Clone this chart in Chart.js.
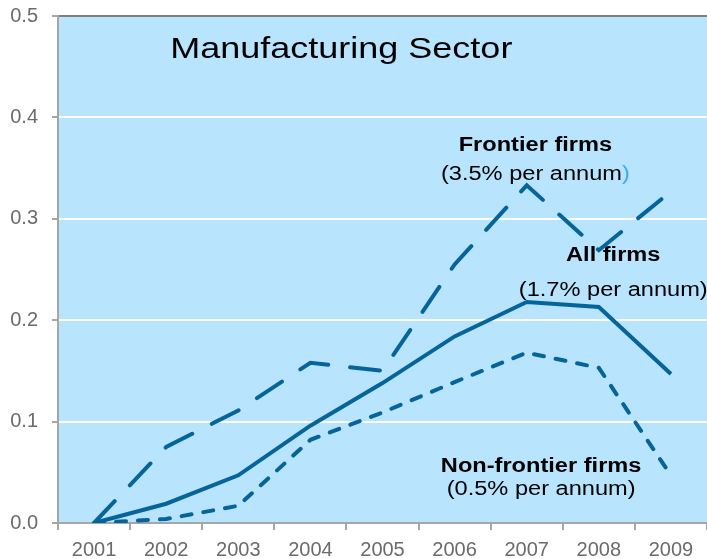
<!DOCTYPE html>
<html>
<head>
<meta charset="utf-8">
<script src="https://cdn.jsdelivr.net/npm/chart.js@4.4.0/dist/chart.umd.min.js"></script>
<style>
    html, body { margin: 0; padding: 0; background: #fff; }
    #wrap { width: 707px; height: 559px; }
</style>
</head>
<body>
<div id="wrap"><canvas id="chart"></canvas></div>
<script>
// values
var years = ['2001', '2002', '2003', '2004', '2005', '2006', '2007', '2008', '2009'];
var allFirms = [0, 0.019, 0.047, 0.096, 0.138, 0.184, 0.218, 0.213, 0.147];
var frontierFirms = [0, 0.075, 0.111, 0.158, 0.150, 0.255, 0.333, 0.269, 0.327];
var nonFrontierFirms = [0, 0.004, 0.017, 0.082, 0.109, 0.139, 0.168, 0.153, 0.047];
var yMin = 0, yMax = 0.5, yStep = 0.1;

var chartTitle = 'Manufacturing Sector';
var seriesNotes = [
    { name: 'Frontier firms', rate: '(3.5% per annum', at: [6.12, 0.3665, 0.338] },
    { name: 'All firms', rate: '(1.7% per annum)', at: [7.2, 0.2587, 0.2234] },
    { name: 'Non-frontier firms', rate: '(0.5% per annum)', at: [6.2, 0.0506, 0.0276] }
];

var lineColor = '#05649a';
var axisGrey = '#a6a6a6';
var FONT = '"Liberation Sans", Arial, sans-serif';

var plotBackground = {
    id: 'plotBackground',
    beforeDraw: function(chart) {
        var a = chart.chartArea, ctx = chart.ctx;
        ctx.save();
        ctx.fillStyle = '#b8e4fd';
        ctx.fillRect(a.left, a.top, a.right - a.left, a.bottom - a.top);
        ctx.restore();
    }
};

var notes = {
    id: 'notes',
    afterDatasetsDraw: function(chart) {
        var ctx = chart.ctx, xs = chart.scales.x, ys = chart.scales.y;
        var stretch = 1.18;
        ctx.save();
        ctx.fillStyle = '#000';
        ctx.textBaseline = 'alphabetic';

        // title
        ctx.save();
        ctx.translate(xs.getPixelForValue(1.056), ys.getPixelForValue(0.4587));
        ctx.scale(1.2, 1);
        ctx.font = '30px ' + FONT;
        ctx.textAlign = 'left';
        ctx.fillText(chartTitle, 0, 0);
        ctx.restore();

        seriesNotes.forEach(function(n) {
            var px = xs.getPixelForValue(n.at[0]);
            ctx.save();
            ctx.translate(px, ys.getPixelForValue(n.at[1]));
            ctx.scale(stretch, 1);
            ctx.font = 'bold 20px ' + FONT;
            ctx.textAlign = 'center';
            ctx.fillText(n.name, 0, 0);
            ctx.restore();

            ctx.save();
            ctx.translate(px, ys.getPixelForValue(n.at[2]));
            ctx.scale(stretch, 1);
            ctx.font = '20px ' + FONT;
            ctx.textAlign = 'left';
            if (n.rate.slice(-1) === ')') {
                var w = ctx.measureText(n.rate).width;
                ctx.fillText(n.rate, -w / 2, 0);
            } else {
                var w1 = ctx.measureText(n.rate).width;
                var w2 = ctx.measureText(')').width;
                ctx.fillText(n.rate, -(w1 + w2) / 2, 0);
                ctx.fillStyle = '#3fa9f5';
                ctx.fillText(')', -(w1 + w2) / 2 + w1, 0);
            }
            ctx.restore();
        });
        ctx.restore();
    }
};

var ctx = document.getElementById('chart');
var chart = new Chart(ctx, {
    type: 'line',
    data: {
        labels: years,
        datasets: [{
            label: 'Frontier firms',
            data: frontierFirms,
            borderColor: lineColor,
            borderWidth: 4,
            borderDash: [30, 22],
            borderCapStyle: 'round',
            pointRadius: 0,
            tension: 0
        }, {
            label: 'All firms',
            data: allFirms,
            borderColor: lineColor,
            borderWidth: 4,
            pointRadius: 0,
            tension: 0
        }, {
            label: 'Non-frontier firms',
            data: nonFrontierFirms,
            borderColor: lineColor,
            borderWidth: 4,
            borderDash: [10, 12],
            borderCapStyle: 'round',
            pointRadius: 0,
            tension: 0
        }]
    },
    options: {
        responsive: true,
        maintainAspectRatio: false,
        animation: false,
        devicePixelRatio: 1,
        layout: { padding: { top: 16, right: 0, left: 0, bottom: 0 } },
        plugins: {
            legend: { display: false },
            tooltip: { enabled: false }
        },
        scales: {
            x: {
                offset: true,
                grid: {
                    offset: true,
                    drawOnChartArea: false,
                    color: axisGrey,
                    tickColor: axisGrey,
                    tickLength: 7,
                    lineWidth: 2
                },
                border: { color: axisGrey, width: 2 },
                ticks: {
                    color: '#6b6b6b',
                    font: { family: FONT, size: 20 },
                    padding: 8,
                    maxRotation: 0,
                    autoSkip: false
                },
                afterFit: function(s) {
                    s.height = 36;
                    s.paddingLeft = 0;
                    s.paddingRight = 0;
                }
            },
            y: {
                min: yMin,
                max: yMax,
                grid: {
                    color: function(c) {
                        return Math.abs(c.tick.value - yMax) < 1e-6 ? '#7f7f7f' : '#ffffff';
                    },
                    tickColor: axisGrey,
                    tickLength: 6,
                    lineWidth: 2
                },
                border: { color: axisGrey, width: 2 },
                ticks: {
                    stepSize: yStep,
                    color: '#6b6b6b',
                    font: { family: FONT, size: 20 },
                    padding: 14,
                    callback: function(v) { return v.toFixed(1); }
                },
                afterFit: function(s) {
                    s.width = 58;
                    s.paddingTop = 0;
                    s.paddingBottom = 0;
                }
            }
        }
    },
    plugins: [plotBackground, notes]
});
</script>
</body>
</html>
